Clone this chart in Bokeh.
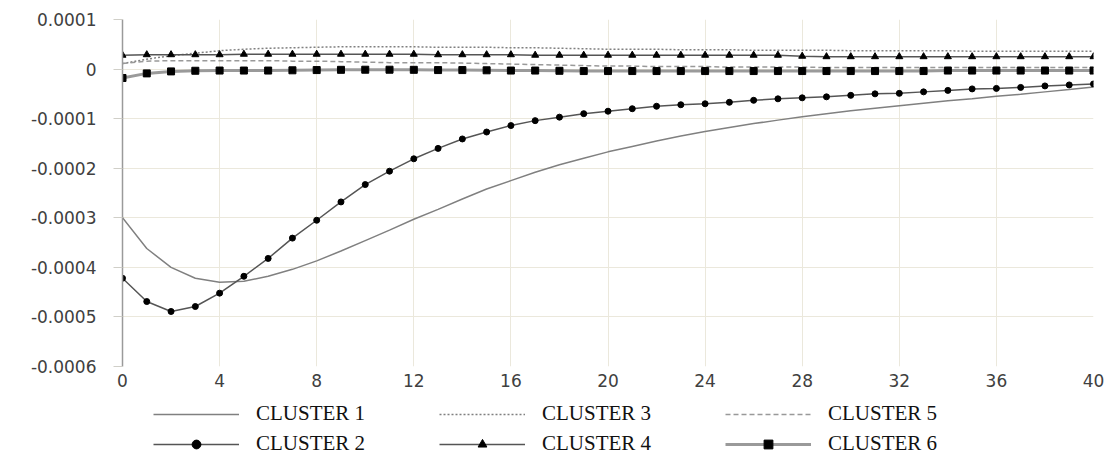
from bokeh.plotting import figure
from bokeh.layouts import column
from bokeh.models import Range1d, FixedTicker, CustomJSTickFormatter, Legend, LegendItem
from bokeh.embed import file_html
from bokeh.resources import INLINE

periods = list(range(41))
x_ticks = [0, 4, 8, 12, 16, 20, 24, 28, 32, 36, 40]
y_ticks = [-0.0006, -0.0005, -0.0004, -0.0003, -0.0002, -0.0001, 0.0, 0.0001]

cluster1 = [-0.000300, -0.000362, -0.000400, -0.000422, -0.000430, -0.000428, -0.000418,
            -0.000404, -0.000387, -0.000367, -0.000346, -0.000325, -0.000303, -0.000283,
            -0.000262, -0.000242, -0.000225, -0.000208, -0.000193, -0.000180, -0.000167,
            -0.000156, -0.000145, -0.000135, -0.000126, -0.000118, -0.000110, -0.000103,
            -0.000096, -0.000090, -0.000084, -0.000079, -0.000074, -0.000069, -0.000064,
            -0.000060, -0.000055, -0.000051, -0.000046, -0.000041, -0.000036]
cluster2 = [-0.000422, -0.000469, -0.000489, -0.000479, -0.000452, -0.000418, -0.000382,
            -0.000341, -0.000305, -0.000268, -0.000233, -0.000206, -0.000181, -0.000160,
            -0.000141, -0.000127, -0.000114, -0.000104, -0.000097, -0.000090, -0.000085,
            -0.000080, -0.000075, -0.000072, -0.000070, -0.000067, -0.000063, -0.000060,
            -0.000058, -0.000056, -0.000053, -0.000050, -0.000049, -0.000046, -0.000043,
            -0.000040, -0.000039, -0.000037, -0.000034, -0.000032, -0.000030]
cluster3 = [0.000011, 0.000020, 0.000027, 0.000032, 0.000037, 0.000040, 0.000042,
            0.000043, 0.000044, 0.000045, 0.000045, 0.000045, 0.000045, 0.000044,
            0.000044, 0.000044, 0.000043, 0.000043, 0.000042, 0.000041, 0.000040,
            0.000040, 0.000040, 0.000039, 0.000039, 0.000039, 0.000038, 0.000038,
            0.000038, 0.000038, 0.000037, 0.000037, 0.000037, 0.000037, 0.000037,
            0.000036, 0.000036, 0.000036, 0.000036, 0.000036, 0.000036]
cluster4 = [0.000028, 0.000029, 0.000029, 0.000029, 0.000029, 0.000030, 0.000030,
            0.000030, 0.000030, 0.000030, 0.000030, 0.000030, 0.000030, 0.000029,
            0.000029, 0.000029, 0.000029, 0.000028, 0.000028, 0.000028, 0.000028,
            0.000028, 0.000028, 0.000028, 0.000028, 0.000028, 0.000028, 0.000028,
            0.000026, 0.000025, 0.000025, 0.000025, 0.000025, 0.000025, 0.000025,
            0.000025, 0.000025, 0.000025, 0.000025, 0.000025, 0.000025]
cluster5 = [0.000011, 0.000016, 0.000017, 0.000017, 0.000017, 0.000017, 0.000017,
            0.000016, 0.000016, 0.000015, 0.000014, 0.000013, 0.000013, 0.000013,
            0.000012, 0.000011, 0.000010, 0.000009, 0.000008, 0.000007, 0.000006,
            0.000006, 0.000005, 0.000005, 0.000005, 0.000004, 0.000004, 0.000004,
            0.000004, 0.000003, 0.000003, 0.000003, 0.000003, 0.000003, 0.000003,
            0.000003, 0.000003, 0.000003, 0.000003, 0.000003, 0.000003]
cluster6 = [-0.000018, -0.0000087, -0.0000047, -0.0000034, -0.000003, -0.000003, -0.000003,
            -0.0000025, -0.000002, -0.0000015, -0.0000013, -0.0000013, -0.0000015, -0.000002,
            -0.000002, -0.0000025, -0.000003, -0.000003, -0.0000035, -0.000004, -0.000004,
            -0.000004, -0.000004, -0.000004, -0.000004, -0.000004, -0.000004, -0.000004,
            -0.000004, -0.000004, -0.000004, -0.000004, -0.000004, -0.000004, -0.000003,
            -0.000003, -0.000003, -0.000003, -0.000003, -0.000003, -0.000003]
labels = ["CLUSTER 1", "CLUSTER 2", "CLUSTER 3", "CLUSTER 4", "CLUSTER 5", "CLUSTER 6"]

styles = [
    dict(color="#808080", width=1.5, dash="solid", marker=None),
    dict(color="#555555", width=1.5, dash="solid", marker="circle"),
    dict(color="#808080", width=1.5, dash="2 2", marker=None),
    dict(color="#555555", width=1.5, dash="solid", marker="triangle"),
    dict(color="#999999", width=1.5, dash="5 3", marker=None),
    dict(color="#9a9a9a", width=3, dash="solid", marker="square"),
]
marker_size = {"circle": 6, "triangle": 7, "square": 7}
series = [cluster1, cluster2, cluster3, cluster4, cluster5, cluster6]

p = figure(width=1110, height=394, output_backend="svg", toolbar_location=None,
           x_range=Range1d(0, 40), y_range=Range1d(-0.0006, 0.0001),
           min_border_left=122, min_border_right=17, min_border_top=19, min_border_bottom=28)
p.outline_line_color = None

p.xaxis.ticker = FixedTicker(ticks=x_ticks)
p.yaxis.ticker = FixedTicker(ticks=y_ticks)
p.yaxis.formatter = CustomJSTickFormatter(code="return Math.abs(tick) < 1e-12 ? '0' : tick.toFixed(4);")
for ax in (p.xaxis[0], p.yaxis[0]):
    ax.major_label_text_font = "DejaVu Sans"
    ax.major_label_text_font_size = "17px"
    ax.major_label_text_color = "#404040"
    ax.minor_tick_line_color = None
p.xaxis.axis_line_color = None
p.xaxis.major_tick_line_color = None
p.xaxis.major_tick_out = 0
p.xaxis.major_tick_in = 0
p.xaxis.major_label_standoff = 7
p.yaxis.axis_line_color = "#9a9a9a"
p.yaxis.axis_line_width = 1.5
p.yaxis.major_tick_line_color = "#d0cfc8"
p.yaxis.major_tick_out = 9
p.yaxis.major_tick_in = 0
p.yaxis.major_label_standoff = 17
p.xgrid.grid_line_color = "#ebe8dc"
p.ygrid.grid_line_color = "#ebe8dc"

for vals, st in zip(series, styles):
    p.line(periods, vals, line_color=st["color"], line_width=st["width"], line_dash=st["dash"])
    if st["marker"]:
        p.scatter(periods, vals, marker=st["marker"], size=marker_size[st["marker"]],
                  fill_color="black", line_color="black")

# legend strip below the chart (its renderers use the same series, kept out of its view)
lf = figure(width=1110, height=61, output_backend="svg", toolbar_location=None,
            x_range=Range1d(0, 40), y_range=Range1d(1, 2),
            min_border_left=122, min_border_right=17, min_border_top=0, min_border_bottom=0)
lf.outline_line_color = None
lf.axis.visible = False
lf.grid.visible = False
items = []
for lab, vals, st in zip(labels, series, styles):
    rs = [lf.line(periods, vals, line_color=st["color"], line_width=st["width"], line_dash=st["dash"])]
    if st["marker"]:
        rs.append(lf.scatter(periods, vals, marker=st["marker"], size=marker_size[st["marker"]],
                             fill_color="black", line_color="black"))
    items.append(LegendItem(label=lab, renderers=rs))

leg = Legend(items=items, location=(31, -1), orientation="vertical", nrows=2,
             glyph_width=86, glyph_height=22, label_height=22, label_width=178,
             label_standoff=17, spacing=5, padding=0, margin=0,
             border_line_color=None, background_fill_alpha=0,
             label_text_font="Liberation Serif", label_text_font_size="21px",
             label_text_color="#111111")
lf.add_layout(leg, "center")

layout = column(p, lf, spacing=0)
open("out.html", "w").write(file_html(layout, INLINE))
